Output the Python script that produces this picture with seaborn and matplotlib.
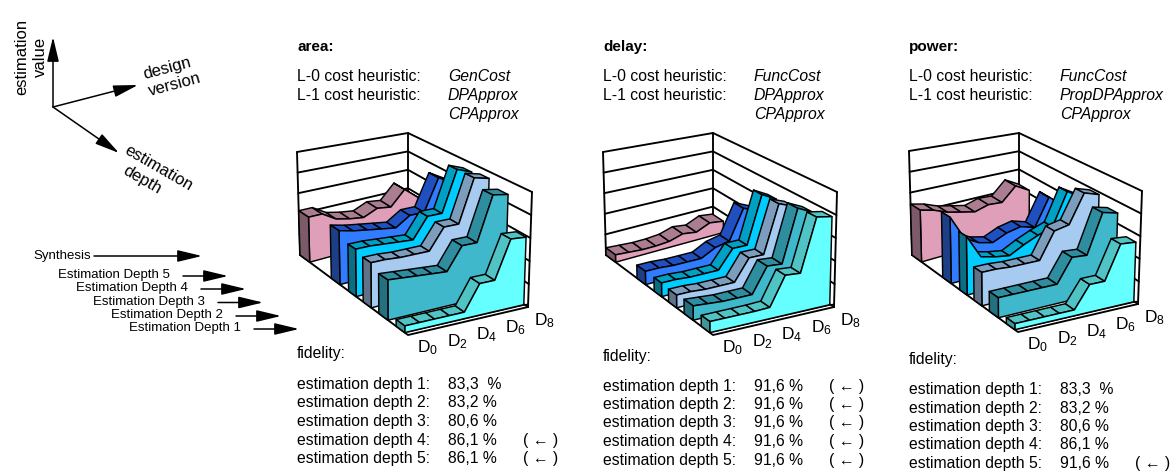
import numpy as np
import pandas as pd
import matplotlib
matplotlib.use('Agg')
import matplotlib.pyplot as plt
import seaborn as sns

# series names, back to front
series_names = ['Synthesis', 'Estimation Depth 5', 'Estimation Depth 4', 'Estimation Depth 3', 'Estimation Depth 2', 'Estimation Depth 1']
versions = ['D0', 'D1', 'D2', 'D3', 'D4', 'D5', 'D6', 'D7', 'D8']

# estimation value read off the walls, in percent of wall height
area_synth = [43, 43, 35, 32, 30, 36, 34, 49, 37]
area_d5 = [49, 46, 44, 42, 40, 49, 49, 80, 72]
area_d4 = [42, 42, 41, 40, 39, 58, 58, 97, 92]
area_d3 = [39, 39, 38, 38, 38, 57, 57, 97, 94]
area_d2 = [34, 33, 32, 31, 30, 50, 50, 90, 88]
area_d1 = [5.5, 5.5, 5.5, 5.5, 5.5, 27, 27, 60, 59]

delay_synth = [7, 6, 5, 5, 6, 10, 8, 14, 12]
delay_d5 = [12, 12, 11, 11, 11, 18, 21, 50, 44]
delay_d4 = [12, 12, 11, 11, 11, 28, 28, 73, 66]
delay_d3 = [11, 11, 10, 10, 10, 29, 29, 73, 68]
delay_d2 = [12, 11, 10, 10, 10, 32, 31, 78, 72]
delay_d1 = [9, 9, 9, 9, 9.5, 34, 33, 79, 77]

power_synth = [49, 46, 41, 38, 35, 39, 38, 52, 44]
power_d5 = [60, 38, 31, 28, 34, 37, 33, 60, 48]
power_d4 = [52, 31, 28, 26, 33, 39, 44, 75, 67]
power_d3 = [29, 29, 28, 28, 28, 52, 55, 82, 78]
power_d2 = [17, 17, 17, 17, 17, 38, 37, 73, 70]
power_d1 = [5, 5, 5, 5, 5, 24, 24, 54, 53]

depth_labels = ['estimation depth 1:', 'estimation depth 2:', 'estimation depth 3:', 'estimation depth 4:', 'estimation depth 5:']
area_fid = ['83,3  %', '83,2 %', '80,6 %', '86,1 %', '86,1 %']
delay_fid = ['91,6 %', '91,6 %', '91,6 %', '91,6 %', '91,6 %']
power_fid = ['83,3  %', '83,2 %', '80,6 %', '86,1 %', '91,6 %']
area_best = [3, 4]
delay_best = [0, 1, 2, 3, 4]
power_best = [4]

rows = []
for metric, vals in [('area', [area_synth, area_d5, area_d4, area_d3, area_d2, area_d1]),
                     ('delay', [delay_synth, delay_d5, delay_d4, delay_d3, delay_d2, delay_d1]),
                     ('power', [power_synth, power_d5, power_d4, power_d3, power_d2, power_d1])]:
    for name, v in zip(series_names, vals):
        for ver, val in zip(versions, v):
            rows.append({'metric': metric, 'series': name, 'version': ver, 'value': val})
data = pd.DataFrame(rows)

# face, top strip, end cap
colors = {
    'Synthesis': ('#df9fb8', '#aa7d91', '#7d5a69'),
    'Estimation Depth 5': ('#2f7cff', '#2050c0', '#1c3f88'),
    'Estimation Depth 4': ('#00ccff', '#009fc4', '#0a6f85'),
    'Estimation Depth 3': ('#a6caf0', '#7d9dbd', '#5f7288'),
    'Estimation Depth 2': ('#3fb8cc', '#2f8da0', '#24707f'),
    'Estimation Depth 1': ('#66ffff', '#50c4c4', '#3f9797'),
}
# ribbon front and back along the depth axis
v_back = [0.0, 0.29, 0.45, 0.585, 0.73, 0.89]
v_front = [0.09, 0.37, 0.52, 0.66, 0.815, 0.97]

sns.set_theme(style='white')
plt.rcParams['font.family'] = ['Liberation Sans', 'DejaVu Sans']
plt.rcParams['text.color'] = 'black'
plt.rcParams['mathtext.default'] = 'regular'
plt.rcParams['mathtext.fontset'] = 'custom'
plt.rcParams['mathtext.rm'] = 'Liberation Sans'

fig = plt.figure(figsize=(11.73, 4.72), dpi=100)
ax = fig.add_axes([0, 0, 1, 1])
ax.set_xlim(0, 1173)
ax.set_ylim(472, 0)
ax.axis('off')


def project(frame, u, v, h):
    bottom, top = frame
    pts = []
    for c in (bottom, top):
        L, B, R, F = [np.array(p, dtype=float) for p in c]
        pts.append((1-u)*(1-v)*L + u*(1-v)*B + u*v*R + (1-u)*v*F)
    return pts[0] + (pts[1]-pts[0])*h/100


def line(frame, pts, lw=1.35):
    xy = np.array([project(frame, *p) for p in pts])
    sns.lineplot(x=xy[:, 0], y=xy[:, 1], color='black', lw=lw, sort=False, estimator=None, ax=ax, legend=False, zorder=0)


def poly(frame, pts, color):
    xy = np.array([project(frame, *p) for p in pts])
    ax.fill(xy[:, 0], xy[:, 1], facecolor=color, edgecolor='black', lw=1.05, joinstyle='round')


def draw_panel(metric, frame):
    for h in range(0, 101, 20):
        line(frame, [(0, 0, h), (1, 0, h), (1, 1, h)])
    for u, v in [(0, 0), (1, 0), (1, 1)]:
        line(frame, [(u, v, 0), (u, v, 100)])
    line(frame, [(0, 0, 0), (0, 1, 0), (1, 1, 0)])
    line(frame, [(0, 1, 2.5), (1, 1, 2.5)], lw=0.9)

    us = np.arange(9)*0.995/8
    for j, name in enumerate(series_names):
        sub = data[(data.metric == metric) & (data.series == name)]
        vals = sub['value'].values
        face, strip, cap = colors[name]
        v0, v1 = v_back[j], v_front[j]
        for i in range(8):
            poly(frame, [(us[i], v1, vals[i]), (us[i+1], v1, vals[i+1]), (us[i+1], v0, vals[i+1]), (us[i], v0, vals[i])], strip)
        outline = [(us[0], v1, 0), (us[8], v1, 0)] + [(us[i], v1, vals[i]) for i in range(8, -1, -1)]
        poly(frame, outline, face)
        poly(frame, [(us[0], v0, 0), (us[0], v1, 0), (us[0], v1, vals[0]), (us[0], v0, vals[0])], cap)

    for i in range(0, 9, 2):
        p = project(frame, i*0.97/8, 1, 0)
        ax.text(p[0]+20, p[1]+13, 'D$_{%d}$' % i, fontsize=12.5, ha='center', va='center')


def draw_text(x, title, h0, h1, h2, fid_y, row_ys, fid, best):
    val_x = x + 151
    ax.text(x, 51, title, fontsize=11, fontweight='bold')
    ax.text(x, 81, 'L-0 cost heuristic:', fontsize=11.3)
    ax.text(x, 100, 'L-1 cost heuristic:', fontsize=11.3)
    ax.text(val_x, 81, h0, fontsize=11.3, style='italic')
    ax.text(val_x, 100, h1, fontsize=11.3, style='italic')
    ax.text(val_x, 119, h2, fontsize=11.3, style='italic')
    ax.text(x, fid_y+4, 'fidelity:', fontsize=11.3)
    for i, y in enumerate(row_ys):
        ax.text(x, y+5, depth_labels[i], fontsize=11.3)
        ax.text(val_x, y+5, fid[i], fontsize=11.3)
        if i in best:
            ax.text(x+226, y+5, '( ← )', fontsize=11.3)


area_frame = ([(300, 255), (408, 225), (528, 307), (408, 335)], [(297, 152), (408, 133), (532, 192), (408, 213)])
delay_frame = ([(606, 255), (713, 225), (834, 307), (713, 335)], [(603, 152), (713, 133), (837, 192), (713, 212)])
power_frame = ([(912, 255), (1019, 224), (1138, 304), (1018, 332)], [(909, 151), (1019, 133), (1142, 191), (1018, 211)])

draw_panel('area', area_frame)
draw_panel('delay', delay_frame)
draw_panel('power', power_frame)

draw_text(297, 'area:', 'GenCost', 'DPApprox', 'CPApprox', 354, [384, 402, 421, 440, 458], area_fid, area_best)
draw_text(603, 'delay:', 'FuncCost', 'DPApprox', 'CPApprox', 357, [386, 404, 422, 441, 460], delay_fid, delay_best)
draw_text(909, 'power:', 'FuncCost', 'PropDPApprox', 'CPApprox', 360, [389, 408, 426, 444, 463], power_fid, power_best)


def arrow(x0, y0, x1, y1):
    ax.annotate('', xy=(x1, y1), xytext=(x0, y0),
                arrowprops=dict(arrowstyle='-|>,head_length=1.25,head_width=0.3', color='black', lw=1.1,
                                shrinkA=0, shrinkB=0, mutation_scale=12))


# axis sketch top left
arrow(53, 107, 53, 37)
arrow(53, 107, 138, 85)
arrow(53, 107, 119, 153)
ax.text(22, 57, 'estimation', fontsize=12, rotation=90, ha='center', va='center')
ax.text(40, 57, 'value', fontsize=12, rotation=90, ha='center', va='center')
ax.text(167, 68, 'design', fontsize=12, rotation=15, ha='center', va='center', rotation_mode='anchor')
ax.text(175, 85, 'version', fontsize=12, rotation=15, ha='center', va='center', rotation_mode='anchor')
ax.text(158, 168, 'estimation', fontsize=12, rotation=-30, ha='center', va='center', rotation_mode='anchor')
ax.text(142, 180, 'depth', fontsize=12, rotation=-30, ha='center', va='center', rotation_mode='anchor')

# flow legend
ax.text(33, 256, 'Synthesis', fontsize=9.5, va='center')
arrow(94, 256, 202, 256)
legend_x = [58, 76, 93, 111, 129]
legend_y = [275, 288, 301.5, 315, 328]
for n, x, y in zip(series_names[1:], legend_x, legend_y):
    ax.text(x, y, n, fontsize=9.5, va='center')
    arrow(x+125, y+1, x+170, y+1)

plt.savefig('out.png', dpi=100)
